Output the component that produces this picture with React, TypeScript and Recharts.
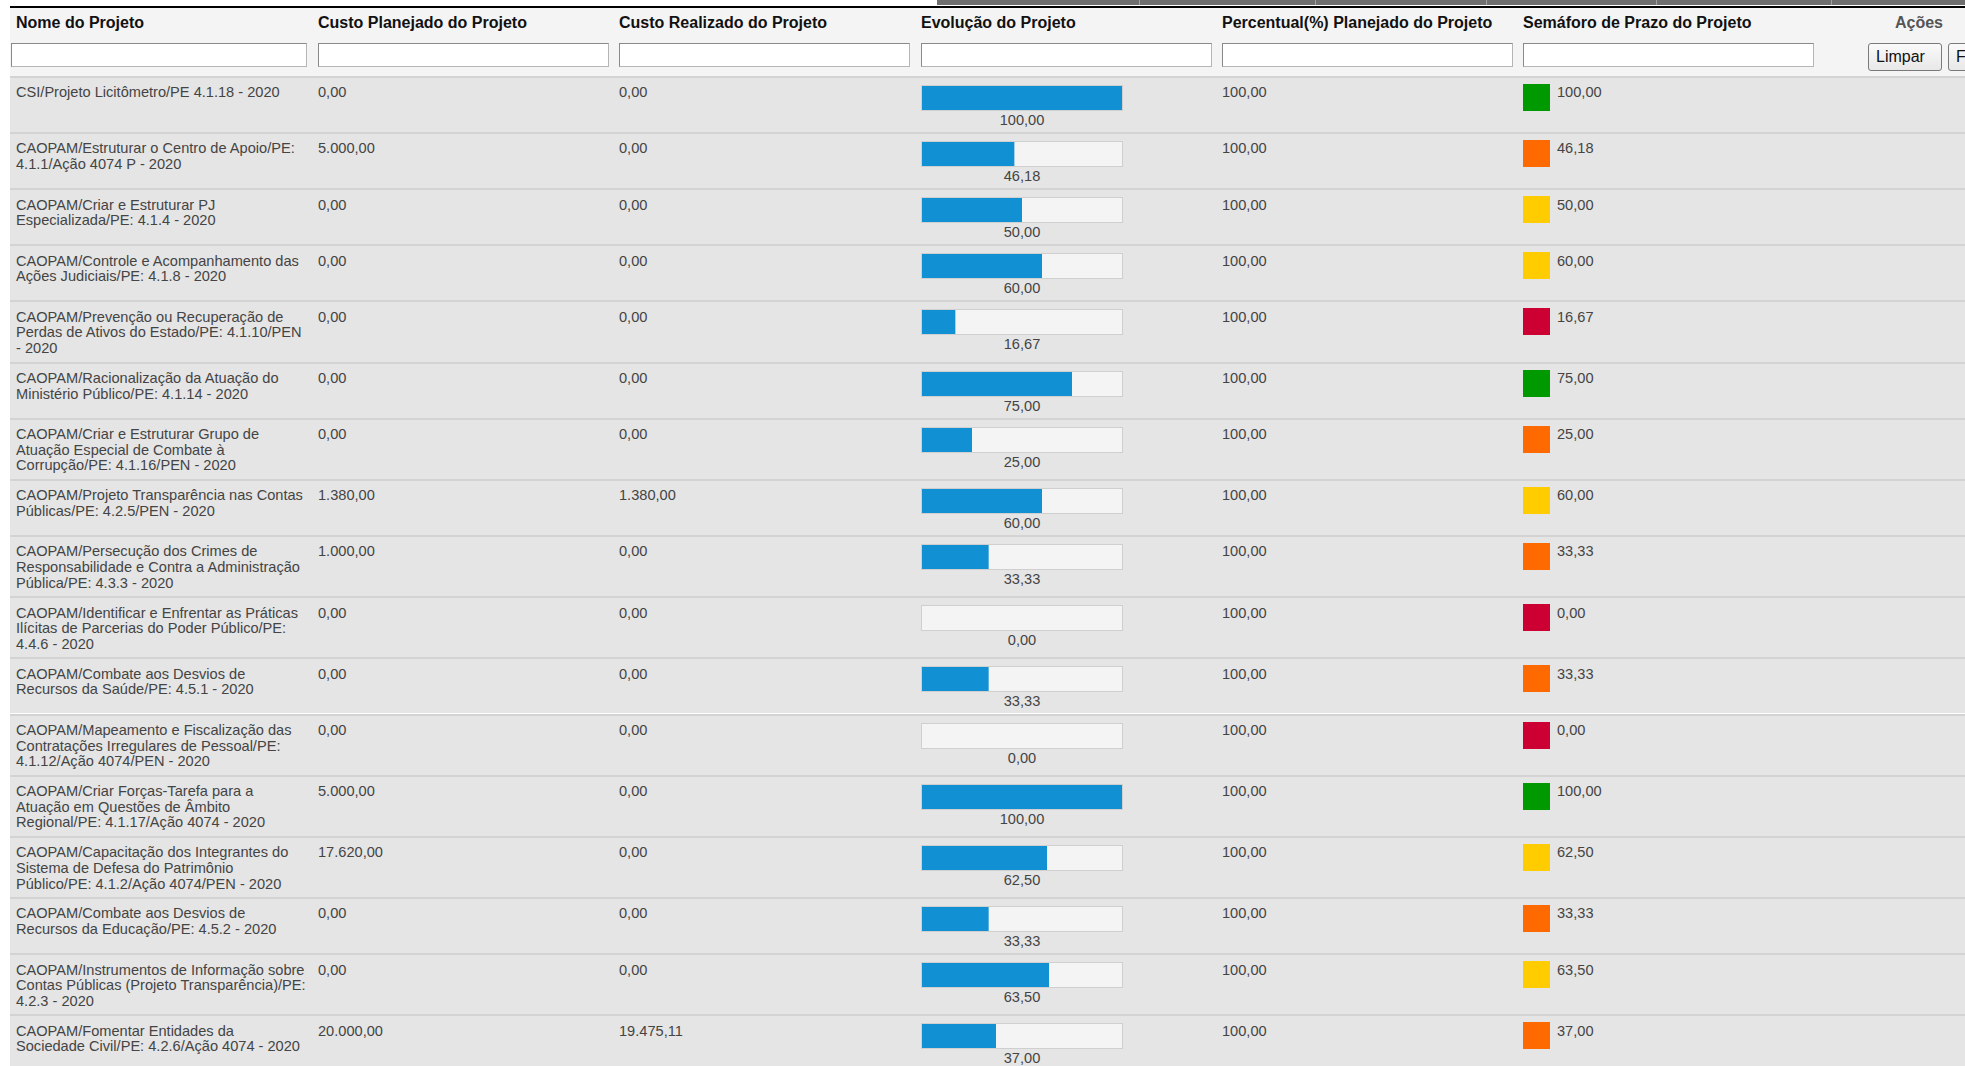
import React from 'react';
import { BarChart, Bar, XAxis, YAxis } from 'recharts';

// one entry per table row
const projectNames = [
  'CSI/Projeto Licitômetro/PE 4.1.18 - 2020',
  'CAOPAM/Estruturar o Centro de Apoio/PE:\n4.1.1/Ação 4074 P - 2020',
  'CAOPAM/Criar e Estruturar PJ\nEspecializada/PE: 4.1.4 - 2020',
  'CAOPAM/Controle e Acompanhamento das\nAções Judiciais/PE: 4.1.8 - 2020',
  'CAOPAM/Prevenção ou Recuperação de\nPerdas de Ativos do Estado/PE: 4.1.10/PEN\n- 2020',
  'CAOPAM/Racionalização da Atuação do\nMinistério Público/PE: 4.1.14 - 2020',
  'CAOPAM/Criar e Estruturar Grupo de\nAtuação Especial de Combate à\nCorrupção/PE: 4.1.16/PEN - 2020',
  'CAOPAM/Projeto Transparência nas Contas\nPúblicas/PE: 4.2.5/PEN - 2020',
  'CAOPAM/Persecução dos Crimes de\nResponsabilidade e Contra a Administração\nPública/PE: 4.3.3 - 2020',
  'CAOPAM/Identificar e Enfrentar as Práticas\nIlícitas de Parcerias do Poder Público/PE:\n4.4.6 - 2020',
  'CAOPAM/Combate aos Desvios de\nRecursos da Saúde/PE: 4.5.1 - 2020',
  'CAOPAM/Mapeamento e Fiscalização das\nContratações Irregulares de Pessoal/PE:\n4.1.12/Ação 4074/PEN - 2020',
  'CAOPAM/Criar Forças-Tarefa para a\nAtuação em Questões de Âmbito\nRegional/PE: 4.1.17/Ação 4074 - 2020',
  'CAOPAM/Capacitação dos Integrantes do\nSistema de Defesa do Patrimônio\nPúblico/PE: 4.1.2/Ação 4074/PEN - 2020',
  'CAOPAM/Combate aos Desvios de\nRecursos da Educação/PE: 4.5.2 - 2020',
  'CAOPAM/Instrumentos de Informação sobre\nContas Públicas (Projeto Transparência)/PE:\n4.2.3 - 2020',
  'CAOPAM/Fomentar Entidades da\nSociedade Civil/PE: 4.2.6/Ação 4074 - 2020',
];

const plannedCost = [0, 5000, 0, 0, 0, 0, 0, 1380, 1000, 0, 0, 0, 5000, 17620, 0, 0, 20000];
const actualCost = [0, 0, 0, 0, 0, 0, 0, 1380, 0, 0, 0, 0, 0, 0, 0, 0, 19475.11];
const progress = [100, 46.18, 50, 60, 16.67, 75, 25, 60, 33.33, 0, 33.33, 0, 100, 62.5, 33.33, 63.5, 37];
const plannedPct = [100, 100, 100, 100, 100, 100, 100, 100, 100, 100, 100, 100, 100, 100, 100, 100, 100];
const deadlineStatus = [
  'green', 'orange', 'yellow', 'yellow', 'red', 'green', 'orange', 'yellow', 'orange',
  'red', 'orange', 'red', 'green', 'yellow', 'orange', 'yellow', 'orange',
];

const headers = [
  'Nome do Projeto',
  'Custo Planejado do Projeto',
  'Custo Realizado do Projeto',
  'Evolução do Projeto',
  'Percentual(%) Planejado do Projeto',
  'Semáforo de Prazo do Projeto',
];

const STATUS_COLORS: Record<string, string> = {
  green: '#009a00',
  orange: '#ff6a00',
  yellow: '#ffcc00',
  red: '#cc0033',
};

const FONT = '"Liberation Sans", Arial, Helvetica, sans-serif';
const COL_X = [16, 318, 619, 921, 1222, 1523];
const LINE_H = 15.7;
const BODY_SIZE = 14.6;
const BAR_BLUE = '#1190d3';

// pt-BR money format: 19475.11 -> 19.475,11
const fmt = (v: number) => {
  const [int, dec] = v.toFixed(2).split('.');
  return int.replace(/\B(?=(\d{3})+(?!\d))/g, '.') + ',' + dec;
};

function ProgressBar({ value }: { value: number }) {
  const data = [{ name: 'evolucao', value }];
  return (
    <div style={{ width: 202, height: 26, boxSizing: 'border-box', border: '1px solid #cfcfcf', background: '#f4f4f4' }}>
      <BarChart width={200} height={24} data={data} layout="vertical" margin={{ top: 0, right: 0, bottom: 0, left: 0 }} barCategoryGap={0}>
        <XAxis type="number" domain={[0, 100]} hide />
        <YAxis type="category" dataKey="name" hide />
        <Bar dataKey="value" fill={BAR_BLUE} isAnimationActive={false} />
      </BarChart>
    </div>
  );
}

export default function App() {
  const textStyle: React.CSSProperties = {
    position: 'absolute', fontSize: BODY_SIZE, lineHeight: `${LINE_H}px`, color: '#444', whiteSpace: 'pre',
  };

  let top = 76;
  const rows = projectNames.map((name, i) => {
    const lines = name.split('\n').length;
    const h = lines >= 3 ? 61.2 : 56.1;
    const T = top;
    top += h;
    return (
      <div key={i} style={{ position: 'absolute', left: 10, right: 0, top: T, height: h, background: '#e5e5e5', borderTop: '2px solid #d3d3d3', boxSizing: 'border-box' }}>
        <div style={{ ...textStyle, left: COL_X[0] - 10, top: 7.4 }}>{name}</div>
        <div style={{ ...textStyle, left: COL_X[1] - 10, top: 7.4 }}>{fmt(plannedCost[i])}</div>
        <div style={{ ...textStyle, left: COL_X[2] - 10, top: 7.4 }}>{fmt(actualCost[i])}</div>
        <div style={{ position: 'absolute', left: COL_X[3] - 10, top: 7 }}>
          <ProgressBar value={progress[i]} />
        </div>
        <div style={{ ...textStyle, left: COL_X[3] - 10, width: 202, textAlign: 'center', top: 35 }}>{fmt(progress[i])}</div>
        <div style={{ ...textStyle, left: COL_X[4] - 10, top: 7.4 }}>{fmt(plannedPct[i])}</div>
        <div style={{ position: 'absolute', left: COL_X[5] - 10, top: 6, width: 27, height: 27, background: STATUS_COLORS[deadlineStatus[i]] }} />
        <div style={{ ...textStyle, left: COL_X[5] + 24, top: 7.4 }}>{fmt(progress[i])}</div>
      </div>
    );
  });

  const headStyle: React.CSSProperties = {
    position: 'absolute', top: 13.7, fontSize: 16, lineHeight: '18px', fontWeight: 'bold', color: '#111', whiteSpace: 'pre',
  };
  const inputStyle: React.CSSProperties = {
    position: 'absolute', top: 43, height: 24, width: 291, boxSizing: 'border-box', background: '#fff',
    borderTop: '1px solid #8a8a8a', borderLeft: '1px solid #8a8a8a', borderRight: '1px solid #b5b5b5', borderBottom: '1px solid #b5b5b5',
  };
  const buttonStyle: React.CSSProperties = {
    position: 'absolute', top: 43, height: 28, boxSizing: 'border-box', border: '1px solid #7a7a7a', borderRadius: 3,
    background: 'linear-gradient(#fafafa, #e8e8e8)', fontSize: 16, lineHeight: '26px', color: '#111', paddingLeft: 7, paddingRight: 7,
    whiteSpace: 'pre',
  };
  const tabSeparators = [1139, 1315, 1486, 1656, 1831];

  return (
    <div style={{ position: 'fixed', left: 0, top: 0, width: 1965, height: 1066, overflow: 'hidden', background: '#fff', fontFamily: FONT }}>
      {/* strip of the tab bar above the grid */}
      <div style={{ position: 'absolute', left: 937, right: 0, top: 0, height: 5, background: '#6f6f6f' }} />
      {tabSeparators.map((x) => (
        <div key={x} style={{ position: 'absolute', left: x, top: 0, width: 1, height: 5, background: '#a0a0a0' }} />
      ))}
      <div style={{ position: 'absolute', left: 10, right: 0, top: 6, height: 2, background: '#000' }} />

      {/* header */}
      <div style={{ position: 'absolute', left: 10, right: 0, top: 8, height: 68, background: '#f4f4f4' }} />
      {headers.map((hd, i) => (
        <div key={hd} style={{ ...headStyle, left: COL_X[i] }}>{hd}</div>
      ))}
      <div style={{ ...headStyle, left: undefined, right: 22, color: '#555' }}>Ações</div>
      {COL_X.map((x, i) => (
        <div key={i} style={{ ...inputStyle, left: i === 0 ? 11 : x, width: i === 0 ? 296 : 291 }} />
      ))}
      <div style={{ ...buttonStyle, left: 1868, width: 74 }}>Limpar</div>
      <div style={{ ...buttonStyle, left: 1948, width: 70, overflow: 'hidden' }}>Filtrar</div>

      {rows}
    </div>
  );
}
